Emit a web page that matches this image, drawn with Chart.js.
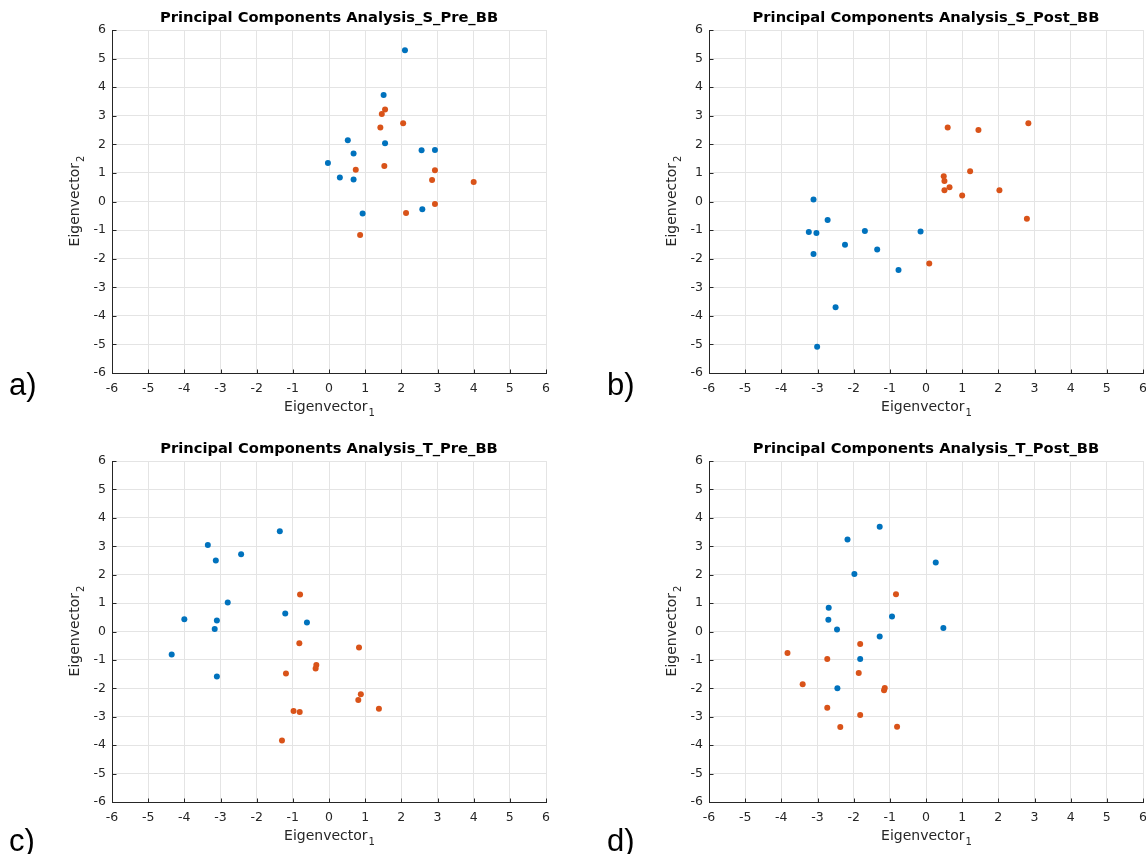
<!DOCTYPE html>
<html><head><meta charset="utf-8">
<script src="https://cdn.jsdelivr.net/npm/chart.js@4/dist/chart.umd.min.js"></script>
<style>
html,body{margin:0;padding:0;background:#fff;width:1146px;height:854px;overflow:hidden;position:relative;}
canvas{position:absolute;}
.lbl{position:absolute;font-family:"Liberation Sans",Arial,sans-serif;font-size:31px;color:#000;line-height:1;}
</style></head><body>
<canvas id="ca"></canvas><canvas id="cb"></canvas><canvas id="cc"></canvas><canvas id="cd"></canvas>
<div class="lbl" style="left:9px;top:369px">a)</div>
<div class="lbl" style="left:607px;top:369px">b)</div>
<div class="lbl" style="left:9px;top:825px">c)</div>
<div class="lbl" style="left:607px;top:825px">d)</div>
<script>
// ---- data ----
const tickValues = [-6,-5,-4,-3,-2,-1,0,1,2,3,4,5,6];
const titles = ["Principal Components Analysis_S_Pre_BB","Principal Components Analysis_S_Post_BB","Principal Components Analysis_T_Pre_BB","Principal Components Analysis_T_Post_BB"];
const xAxisLabel = "Eigenvector", xAxisSub = "1";
const yAxisLabel = "Eigenvector", yAxisSub = "2";

const sPreBlueX   = [2.10,1.51,0.52,1.55,2.56,2.93,0.68,-0.03,0.30,0.68,0.93,2.58];
const sPreBlueY   = [5.29,3.73,2.14,2.04,1.79,1.80,1.68,1.35,0.84,0.77,-0.42,-0.27];
const sPreOrangeX = [1.55,1.46,1.42,2.05,0.74,1.53,2.93,2.85,4.00,2.93,2.13,0.86];
const sPreOrangeY = [3.22,3.06,2.59,2.74,1.11,1.24,1.09,0.75,0.68,-0.09,-0.40,-1.17];

const sPostBlueX   = [-3.11,-2.72,-3.24,-3.03,-1.69,-0.15,-2.24,-3.11,-1.35,-0.76,-2.50,-3.01];
const sPostBlueY   = [0.07,-0.65,-1.07,-1.10,-1.03,-1.05,-1.51,-1.84,-1.68,-2.40,-3.70,-5.08];
const sPostOrangeX = [0.60,1.45,2.83,1.22,0.49,0.51,0.65,0.51,1.00,2.03,2.79,0.09];
const sPostOrangeY = [2.59,2.50,2.74,1.06,0.88,0.72,0.50,0.39,0.21,0.39,-0.60,-2.17];

const tPreBlueX   = [-1.36,-3.35,-3.13,-2.43,-2.80,-4.00,-3.10,-3.16,-1.21,-0.61,-4.35,-3.10];
const tPreBlueY   = [3.53,3.04,2.50,2.72,1.02,0.43,0.39,0.09,0.63,0.32,-0.81,-1.58];
const tPreOrangeX = [-0.80,-0.82,0.83,-0.35,-0.37,-1.19,0.88,0.81,1.38,-0.98,-0.81,-1.30];
const tPreOrangeY = [1.30,-0.41,-0.56,-1.18,-1.30,-1.48,-2.21,-2.41,-2.72,-2.80,-2.83,-3.84];

const tPostBlueX   = [-1.28,-2.17,0.27,-1.98,-2.69,-2.70,-2.46,-0.94,0.48,-1.28,-1.82,-2.45];
const tPostBlueY   = [3.69,3.24,2.43,2.02,0.84,0.41,0.07,0.53,0.12,-0.18,-0.97,-2.00];
const tPostOrangeX = [-0.83,-1.82,-3.83,-2.73,-1.86,-3.41,-1.14,-1.16,-2.73,-1.82,-2.37,-0.80];
const tPostOrangeY = [1.31,-0.44,-0.76,-0.97,-1.46,-1.86,-1.99,-2.07,-2.68,-2.94,-3.36,-3.35];

const BLUE = '#0072BD', ORANGE = '#D95319', AXIS = '#262626', GRID = '#e4e4e4';
const FONT = '"DejaVu Sans", sans-serif';

const deco = {
  id:'deco',
  afterDraw(chart){
    const ctx = chart.ctx, a = chart.chartArea, o = chart.options.plugins.deco;
    ctx.save();
    // inward ticks
    ctx.strokeStyle = AXIS; ctx.lineWidth = 1;
    const xs = chart.scales.x, ys = chart.scales.y;
    ctx.beginPath();
    tickValues.forEach(v=>{
      const px = Math.round(xs.getPixelForValue(v))+0.5;
      ctx.moveTo(px, Math.round(a.bottom)+0.5); ctx.lineTo(px, Math.round(a.bottom)-4+0.5);
      const py = Math.round(ys.getPixelForValue(v))+0.5;
      ctx.moveTo(Math.round(a.left)+0.5, py); ctx.lineTo(Math.round(a.left)+4.5, py);
    });
    ctx.stroke();
    // title
    ctx.fillStyle = '#000';
    ctx.font = 'bold 14.7px ' + FONT;
    ctx.textAlign = 'center'; ctx.textBaseline = 'alphabetic';
    ctx.fillText(o.title, (a.left+a.right)/2, a.top - 8);
    // x axis title
    ctx.fillStyle = AXIS;
    ctx.font = '14px ' + FONT;
    const w1 = ctx.measureText(xAxisLabel).width;
    ctx.font = '10px ' + FONT;
    const w2 = ctx.measureText(xAxisSub).width;
    let x0 = (a.left+a.right)/2 - (w1+w2)/2, y0 = a.bottom + 38;
    ctx.textAlign = 'left';
    ctx.font = '14px ' + FONT; ctx.fillText(xAxisLabel, x0, y0);
    ctx.font = '10px ' + FONT; ctx.fillText(xAxisSub, x0+w1+1, y0+5);
    // y axis title
    ctx.translate(a.left - 33, (a.top+a.bottom)/2);
    ctx.rotate(-Math.PI/2);
    ctx.font = '14px ' + FONT;
    const v1 = ctx.measureText(yAxisLabel).width;
    x0 = -(v1+w2)/2;
    ctx.fillText(yAxisLabel, x0, 0);
    ctx.font = '10px ' + FONT; ctx.fillText(yAxisSub, x0+v1+1, 5);
    ctx.restore();
  }
};

function pts(xs, ys){ return xs.map((x,i)=>({x:x, y:ys[i]})); }

function makeChart(id, left, top, w, h, area, title, bx, by, ox, oy){
  const cv = document.getElementById(id);
  cv.style.left = left+'px'; cv.style.top = top+'px';
  cv.width = w; cv.height = h; cv.style.width = w+'px'; cv.style.height = h+'px';
  const scaleCommon = {
    type:'linear', min:-6, max:6,
    afterBuildTicks: s => { s.ticks = tickValues.map(v=>({value:v})); },
    grid:{color:GRID, drawTicks:false, lineWidth:1},
    border:{color:AXIS, width:1},
    ticks:{font:{family:FONT, size:12.5}, color:AXIS, autoSkip:false, maxRotation:0, minRotation:0}
  };
  new Chart(cv, {
    type:'scatter',
    data:{datasets:[
      {data:pts(bx,by), backgroundColor:BLUE, borderColor:BLUE, pointRadius:3, pointBorderWidth:0, pointHoverRadius:3},
      {data:pts(ox,oy), backgroundColor:ORANGE, borderColor:ORANGE, pointRadius:3, pointBorderWidth:0, pointHoverRadius:3}
    ]},
    options:{
      responsive:false, animation:false, devicePixelRatio:1,
      events:[],
      layout:{padding:{left:0, top:area.top, right:w-area.right, bottom:0}},
      plugins:{legend:{display:false}, tooltip:{enabled:false}, title:{display:false}, deco:{title:title}},
      scales:{
        x:Object.assign({}, scaleCommon, {position:'bottom',
          afterFit: s=>{ s.height = h - area.bottom; s.paddingLeft = 0; s.paddingRight = 0; },
          ticks:Object.assign({}, scaleCommon.ticks, {padding:8})}),
        y:Object.assign({}, scaleCommon, {position:'left',
          afterFit: s=>{ s.width = area.left; s.paddingTop = 0; s.paddingBottom = 0; },
          ticks:Object.assign({}, scaleCommon.ticks, {padding:6})})
      }
    },
    plugins:[deco]
  });
}

makeChart('ca', 0, 0, 573, 430, {left:112, top:30, right:546, bottom:373}, titles[0], sPreBlueX, sPreBlueY, sPreOrangeX, sPreOrangeY);
makeChart('cb', 573, 0, 573, 430, {left:136, top:30, right:570, bottom:373}, titles[1], sPostBlueX, sPostBlueY, sPostOrangeX, sPostOrangeY);
makeChart('cc', 0, 430, 573, 424, {left:112, top:31, right:546, bottom:372}, titles[2], tPreBlueX, tPreBlueY, tPreOrangeX, tPreOrangeY);
makeChart('cd', 573, 430, 573, 424, {left:136, top:31, right:570, bottom:372}, titles[3], tPostBlueX, tPostBlueY, tPostOrangeX, tPostOrangeY);
</script>
</body></html>
